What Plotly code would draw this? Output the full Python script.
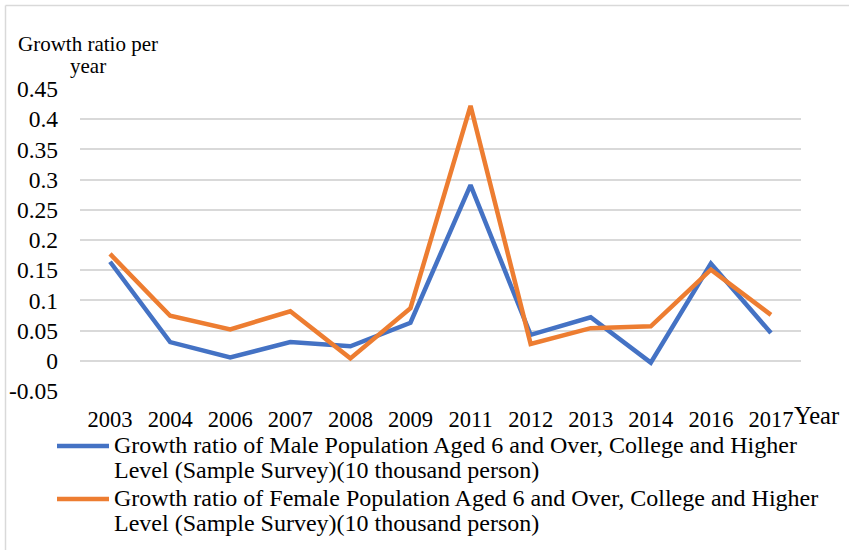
import plotly.graph_objects as go

# Survey years (categorical axis)
years = ["2003", "2004", "2006", "2007", "2008", "2009",
         "2011", "2012", "2013", "2014", "2016", "2017"]

# Annual growth ratios, college level and above, population aged 6+
male_growth = [0.164, 0.031, 0.0055, 0.031, 0.024, 0.063,
               0.291, 0.043, 0.072, -0.003, 0.161, 0.046]
female_growth = [0.177, 0.0745, 0.052, 0.082, 0.004, 0.087,
                 0.422, 0.028, 0.054, 0.057, 0.151, 0.076]

male_name = ["Growth ratio of Male Population Aged 6 and Over, College and Higher",
             "Level (Sample Survey)(10 thousand person)"]
female_name = ["Growth ratio of Female Population Aged 6 and Over, College and Higher",
               "Level (Sample Survey)(10 thousand person)"]

y_ticks = [-0.05, 0, 0.05, 0.1, 0.15, 0.2, 0.25, 0.3, 0.35, 0.4, 0.45]
y_tick_text = ["-0.05", "0", "0.05", "0.1", "0.15", "0.2", "0.25",
               "0.3", "0.35", "0.4", "0.45"]

FONT = "Liberation Serif"
MALE_COLOR = "#4472C4"
FEMALE_COLOR = "#ED7D31"
W, H = 849, 550
L, R, T, B = 80, 48, 89, 159
plot_w = W - L - R
plot_h = H - T - B


def px_to_paper_x(px):
    return (px - L) / plot_w


def px_to_paper_y(py):
    return (H - B - py) / plot_h


fig = go.Figure()
fig.add_trace(go.Scatter(
    x=years, y=male_growth, mode="lines", name=" ".join(male_name),
    line=dict(color=MALE_COLOR, width=4.5, shape="linear"),
))
fig.add_trace(go.Scatter(
    x=years, y=female_growth, mode="lines", name=" ".join(female_name),
    line=dict(color=FEMALE_COLOR, width=4.5, shape="linear"),
))

# Legend below the axis: a line key plus two tightly spaced text rows per series
shapes = [
    # chart frame (top and left edges visible)
    dict(type="line", xref="paper", yref="paper",
         x0=px_to_paper_x(5.5), x1=px_to_paper_x(W + 5),
         y0=px_to_paper_y(5.5), y1=px_to_paper_y(5.5),
         line=dict(color="#D9D9D9", width=1.5)),
    dict(type="line", xref="paper", yref="paper",
         x0=px_to_paper_x(5.5), x1=px_to_paper_x(5.5),
         y0=px_to_paper_y(5.5), y1=px_to_paper_y(H + 5),
         line=dict(color="#D9D9D9", width=1.5)),
]
annotations = [
    dict(text="Growth ratio per", xref="paper", yref="paper",
         x=px_to_paper_x(87.5), y=px_to_paper_y(44),
         xanchor="center", yanchor="middle",
         showarrow=False, font=dict(family=FONT, size=21, color="#000")),
    dict(text="year", xref="paper", yref="paper",
         x=px_to_paper_x(87.5), y=px_to_paper_y(66),
         xanchor="center", yanchor="middle",
         showarrow=False, font=dict(family=FONT, size=21, color="#000")),
    dict(text="Year", xref="paper", yref="paper",
         x=px_to_paper_x(792), y=px_to_paper_y(415),
         xanchor="left", yanchor="middle",
         showarrow=False, font=dict(family=FONT, size=24.5, color="#000")),
]

legend_rows = [(male_name, MALE_COLOR, 446), (female_name, FEMALE_COLOR, 499)]
for lines, color, key_y in legend_rows:
    shapes.append(dict(
        type="line", xref="paper", yref="paper",
        x0=px_to_paper_x(57), x1=px_to_paper_x(109),
        y0=px_to_paper_y(key_y), y1=px_to_paper_y(key_y),
        line=dict(color=color, width=4.5),
    ))
    for i, txt in enumerate(lines):
        annotations.append(dict(
            text=txt, xref="paper", yref="paper",
            x=px_to_paper_x(112), y=px_to_paper_y(key_y - 1 + 25 * i),
            xanchor="left", yanchor="middle", showarrow=False,
            font=dict(family=FONT, size=24, color="#000"),
        ))

fig.update_layout(
    width=W, height=H,
    margin=dict(l=L, r=R, t=T, b=B, autoexpand=False),
    paper_bgcolor="white", plot_bgcolor="white",
    font=dict(family=FONT, size=21, color="#000000"),
    showlegend=False,
    xaxis=dict(
        type="category", range=[-0.5, len(years) - 0.5],
        showgrid=False, zeroline=False, showline=False,
        ticks="", tickfont=dict(family=FONT, size=22.5, color="#000"),
        ticklabelstandoff=12, fixedrange=True,
    ),
    yaxis=dict(
        range=[-0.05, 0.45], tickvals=y_ticks, ticktext=y_tick_text,
        showgrid=True, gridcolor="#D9D9D9", gridwidth=1.5,
        zeroline=False, showline=False, ticks="",
        tickfont=dict(family=FONT, size=23.5, color="#000"),
        ticklabelstandoff=21, fixedrange=True,
    ),
    shapes=shapes,
    annotations=annotations,
)

fig.write_html("out.html")
